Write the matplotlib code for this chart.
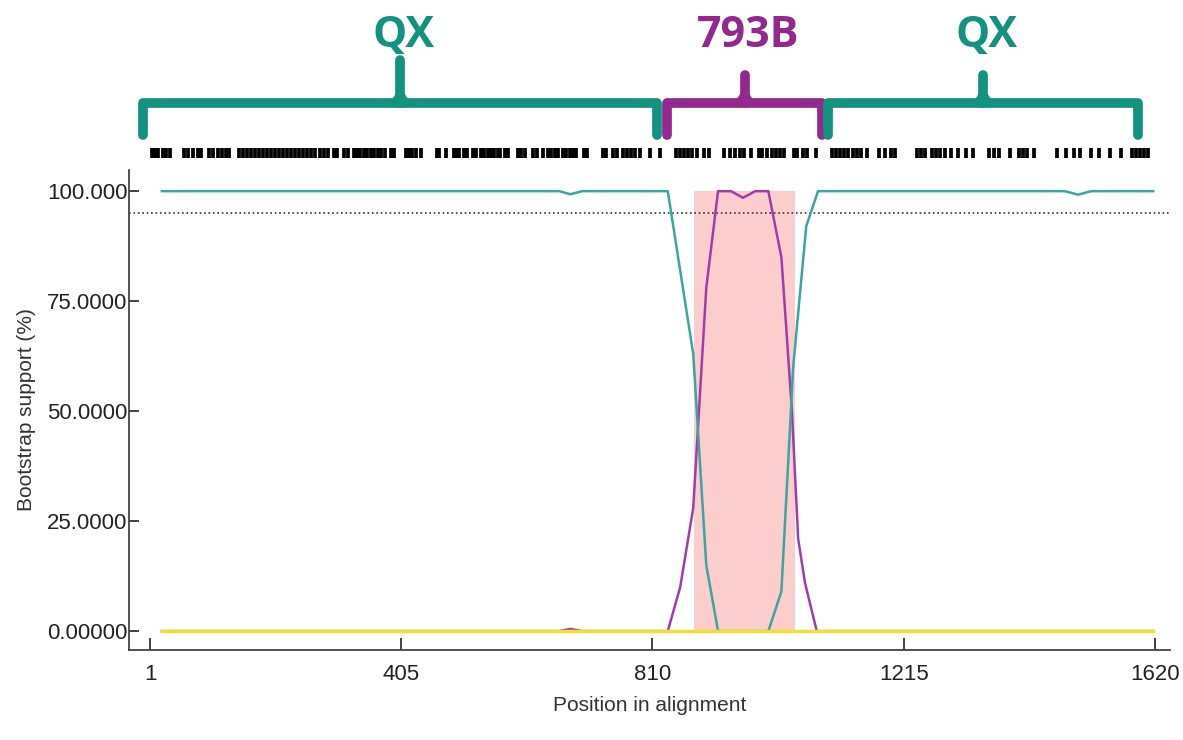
#Bootscan plot: bootstrap support along the alignment, with the recombinant region shaded
import matplotlib
matplotlib.use('Agg')
import matplotlib.pyplot as plt
from matplotlib.transforms import blended_transform_factory

plt.rcParams['font.family'] = ['Liberation Sans', 'DejaVu Sans']

# --- data ---
teal_pos = [20, 660, 678, 697, 835, 876, 897, 916, 997, 1018, 1037, 1058, 1077, 1475, 1496, 1517, 1617]
teal_val = [100, 100, 99.3, 100, 100, 63, 15, 0, 0, 9, 60, 92, 100, 100, 99.2, 100, 100]

purple_pos = [20, 660, 678, 697, 835, 855, 876, 897, 916, 937, 956, 976, 997, 1018, 1035, 1045, 1056, 1075, 1617]
purple_val = [0, 0, 0.5, 0, 0, 10, 28, 78, 100, 100, 98.5, 100, 100, 85, 50, 21, 11, 0, 0]

yellow_pos = [20, 1617]
yellow_val = [0, 0]

recomb_start, recomb_end = 877, 1040
threshold = 95

xticks = [1, 405, 810, 1215, 1620]
yticks = [0, 25, 50, 75, 100]
ytick_labels = ['0.00000', '25.0000', '50.0000', '75.0000', '100.000']

# informative sites (barcode above the plot)
sites = [4, 9, 14, 22, 27, 33, 56, 62, 70, 78, 83, 96, 102, 111, 117, 123, 128,
         144, 151, 157, 164, 170, 177, 183, 189, 196, 202, 209, 215, 222, 228, 235, 241,
         247, 254, 260, 267, 275, 281, 288, 297, 302, 314, 320, 330, 334, 339, 346, 351,
         357, 362, 368, 373, 380, 389, 394, 413, 418, 423, 430, 438, 463, 467, 478, 491,
         496, 499, 507, 512, 521, 526, 534, 539, 546, 550, 555, 562, 565, 573, 578, 594,
         599, 605, 618, 624, 634, 642, 647, 653, 658, 666, 671, 678, 682, 687, 700, 705,
         731, 736, 747, 753, 763, 769, 776, 782, 790, 806, 823, 848, 854, 861, 867, 874,
         882, 894, 901, 925, 936, 943, 951, 958, 969, 982, 987, 995, 1003, 1009, 1016,
         1022, 1038, 1043, 1053, 1059, 1074, 1100, 1106, 1113, 1119, 1125, 1134, 1140,
         1146, 1156, 1175, 1185, 1195, 1201, 1237, 1243, 1250, 1261, 1267, 1274, 1282,
         1291, 1303, 1316, 1327, 1353, 1361, 1369, 1387, 1401, 1407, 1414, 1425, 1462,
         1477, 1490, 1499, 1517, 1530, 1548, 1565, 1583, 1589, 1596, 1602, 1608]

# parental regions: start, end, label
region_start = [-10, 834, 1093]
region_end = [818, 1084, 1593]
region_label = ['QX', '793B', 'QX']

TEAL_LINE = '#3aa79e'
PURPLE_LINE = '#a13dab'
YELLOW = '#f0e12c'
PINK = '#fccdcd'
TEAL_DARK = '#11937f'
PURPLE_DARK = '#93288e'
region_color = [TEAL_DARK, PURPLE_DARK, TEAL_DARK]

fig = plt.figure(figsize=(11.83, 7.40), dpi=100)
ax = fig.add_axes([0.109, 0.1216, 0.880, 0.6486])

ax.fill_between([recomb_start, recomb_end], 0, 100, color=PINK, lw=0, zorder=1)
ax.axhline(threshold, color='#333333', ls=':', lw=1.2, zorder=2)
ax.plot(purple_pos, purple_val, color=PURPLE_LINE, lw=1.8, zorder=3)
ax.plot(teal_pos, teal_val, color=TEAL_LINE, lw=1.8, zorder=4)
ax.plot(yellow_pos, yellow_val, color=YELLOW, lw=2.5, zorder=5)

ax.set_xlim(-33, 1644)
ax.set_ylim(-4.3, 104.8)
ax.set_xticks(xticks)
ax.set_xticklabels([str(t) for t in xticks])
ax.set_yticks(yticks)
ax.set_yticklabels(ytick_labels)
ax.tick_params(axis='both', direction='in', labelsize=16, colors='#222222', width=1.2)
ax.tick_params(axis='x', length=9, pad=10)
ax.tick_params(axis='y', length=7, pad=1)
for s in ['top', 'right']:
    ax.spines[s].set_visible(False)
for s in ['left', 'bottom']:
    ax.spines[s].set_color('#444444')
    ax.spines[s].set_linewidth(1.3)

ax.set_xlabel('Position in alignment', fontsize=15, color='#333333', labelpad=8)
ax.set_ylabel('Bootstrap support (%)', fontsize=15, color='#333333', labelpad=8)

# barcode + brackets live above the axes: x in data units, y in axes units
tr = blended_transform_factory(ax.transData, ax.transAxes)
ax.vlines(sites, 1.025, 1.046, colors='black', lw=2.7, transform=tr, clip_on=False)

peak_h = [1.230, 1.198, 1.198]
for i in range(len(region_start)):
    a, b = region_start[i], region_end[i]
    m = (a + b) / 2
    c = region_color[i]
    h = 1.140
    bx = [a, a, b, b]
    by = [1.072, h, h, 1.072]
    ax.plot(bx, by, color=c, lw=7, transform=tr, clip_on=False,
            solid_joinstyle='round', solid_capstyle='round')
    ax.plot([m, m], [h, peak_h[i]], color=c, lw=7, transform=tr, clip_on=False,
            solid_capstyle='round')
    ax.plot([m - 8, m, m + 8], [h + 0.004, h + 0.02, h + 0.004], color=c, lw=5,
            transform=tr, clip_on=False)
    ax.text(m + 5, 1.281, region_label[i], transform=tr, ha='center', va='center',
            fontsize=31, fontweight='bold', color=c, family=['Open Sans', 'DejaVu Sans'])

fig.savefig('out.png', dpi=100)
